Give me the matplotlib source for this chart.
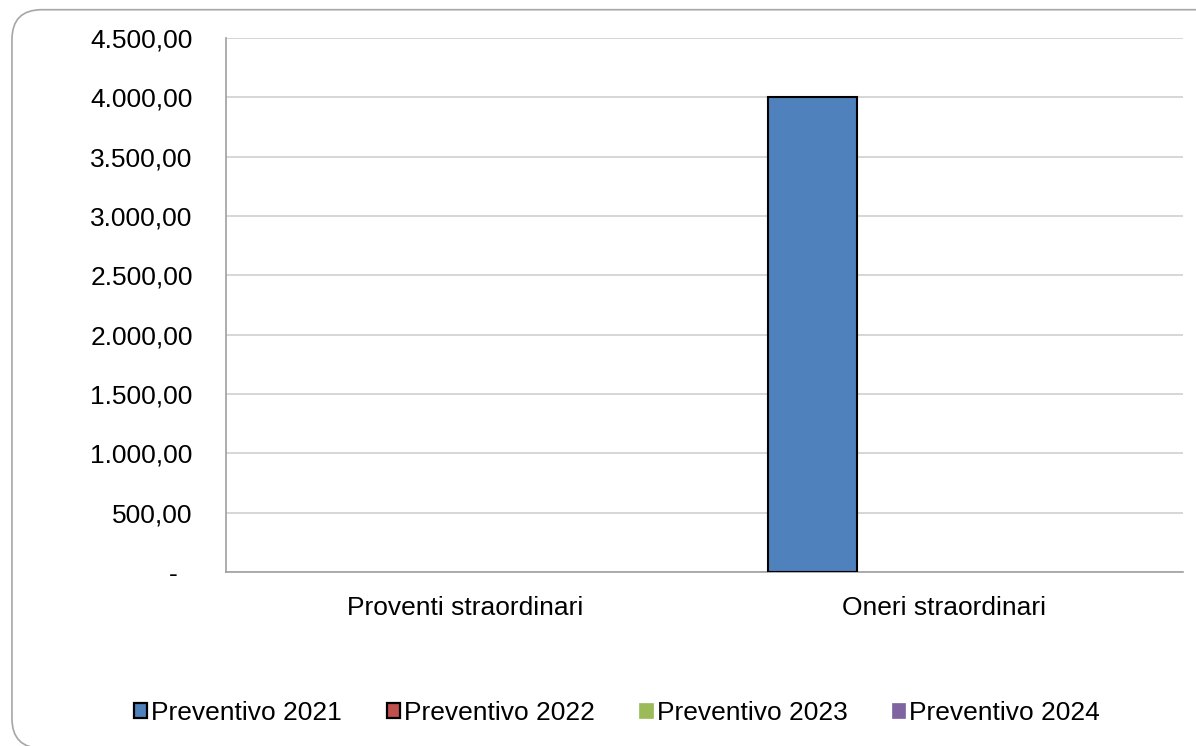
import numpy as np
import matplotlib
matplotlib.use("Agg")
import matplotlib.pyplot as plt
from matplotlib.patches import FancyBboxPatch, Patch
from matplotlib.ticker import FuncFormatter

categories = ["Proventi straordinari", "Oneri straordinari"]
series = ["Preventivo 2021", "Preventivo 2022", "Preventivo 2023", "Preventivo 2024"]
prev_2021 = [0, 4000]
prev_2022 = [0, 0]
prev_2023 = [0, 0]
prev_2024 = [0, 0]
values = [prev_2021, prev_2022, prev_2023, prev_2024]
colors = ["#4f81bd", "#c0504d", "#9bbb59", "#8064a2"]
edged = [True, True, False, False]

plt.rcParams['font.family'] = ['Liberation Sans', 'DejaVu Sans']

fig = plt.figure(figsize=(11.96, 7.46), dpi=100)
border = FancyBboxPatch((0.010, -0.003), 1.2, 0.99, boxstyle="round,pad=0,rounding_size=0.025",
                        transform=fig.transFigure, facecolor="none", edgecolor="#a6a6a6",
                        linewidth=1.2, mutation_aspect=1196 / 746, zorder=-1)
fig.patches.append(border)

ax = fig.add_axes([226 / 1196, 1 - 572 / 746, (1183 - 226) / 1196, (572 - 38) / 746])
ax.set_facecolor("none")

x = np.arange(len(categories))
w = 0.186
handles = []
for i, (name, vals) in enumerate(zip(series, values)):
    pos = x - 1.5 * w + i * w + 0.004
    lw = [1.5 if (edged[i] and v > 0) else 0 for v in vals]
    ax.bar(pos, vals, width=w, color=colors[i], edgecolor="black", linewidth=lw, zorder=3)
    handles.append(Patch(facecolor=colors[i], edgecolor="black" if edged[i] else colors[i],
                         linewidth=1.6 if edged[i] else 0.5, label=name))


def fmt(v, p):
    if v == 0:
        return "-  "
    return f"{v:,.2f}".replace(",", "X").replace(".", ",").replace("X", ".")


ax.set_xlim(-0.5, 1.5)
ax.set_ylim(0, 4500)
ax.set_yticks(np.arange(0, 4501, 500))
ax.yaxis.set_major_formatter(FuncFormatter(fmt))
ax.set_xticks(x)
ax.set_xticklabels(categories)
ax.tick_params(axis="both", length=0, labelsize=19, colors="black")
ax.tick_params(axis="y", pad=24)
ax.tick_params(axis="x", pad=17)
ax.grid(axis="y", color="#d0d0d0", linewidth=1.2, zorder=0)
for s in ["top", "right"]:
    ax.spines[s].set_visible(False)
for s in ["left", "bottom"]:
    ax.spines[s].set_color("#a0a0a0")
    ax.spines[s].set_linewidth(1.2)

fig.legend(handles=handles, loc="center", bbox_to_anchor=(617 / 1196, 1 - 713 / 746), ncol=4,
           frameon=False, fontsize=19, handlelength=0.5, handleheight=0.5, handletextpad=0.15,
           columnspacing=1.7)

fig.savefig("out.png", dpi=100)
